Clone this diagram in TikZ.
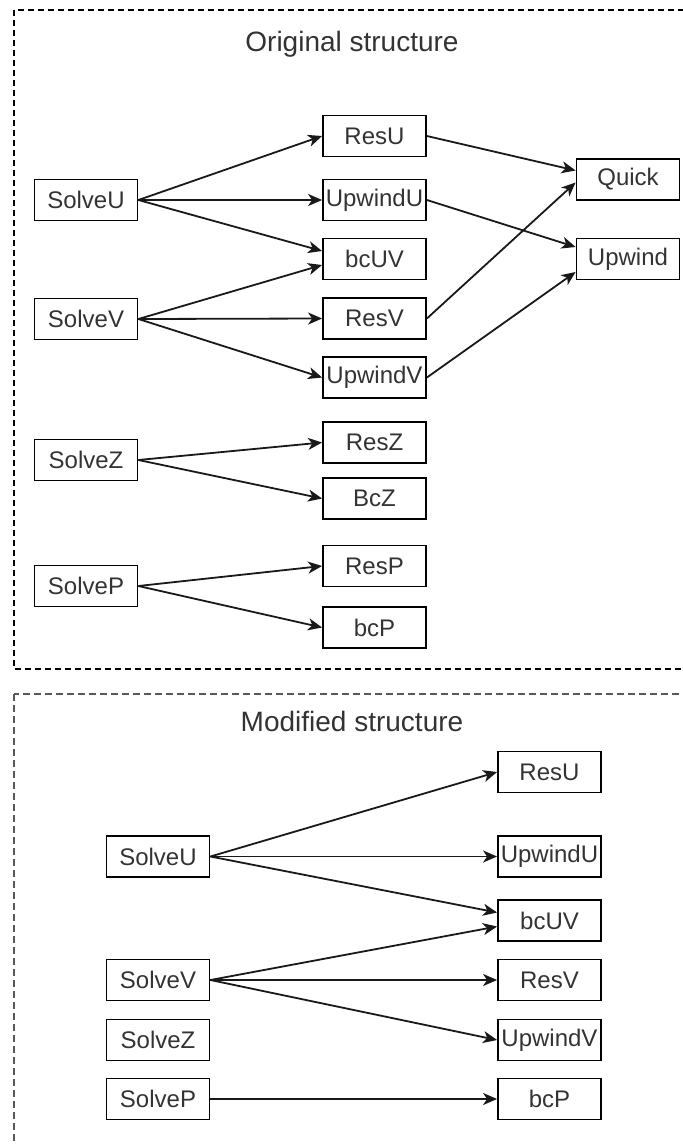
\documentclass[tikz,border=0pt]{standalone}
\usepackage{fontspec}
\setmainfont{Liberation Sans}
\usetikzlibrary{arrows.meta}
\definecolor{txt}{HTML}{333333}
\tikzset{
  blk/.style={draw=black, line width=1.8pt, minimum width=103pt, minimum height=41pt,
    inner sep=0pt, text=txt, font=\fontsize{24}{28}\selectfont},
  ttl/.style={text=txt, font=\fontsize{28}{32}\selectfont, inner sep=0pt},
  link/.style={line width=1.8pt, draw=black!90,
    -{Stealth[length=14pt,width=12pt,inset=4pt]}},
  frame/.style={line width=1.3pt, dash pattern=on 6pt off 4pt}
}
\begin{document}
\begin{tikzpicture}[x=1pt,y=-1pt]
\useasboundingbox (0,0) rectangle (683,1144);
\clip (0,0) rectangle (683,1144);

% dashed group frames
\draw[frame, black] (14,10) rectangle (700,669);
\draw[frame, black!65, line width=1.8pt, dash pattern=on 7pt off 4pt] (14,694) rectangle (700,1160);

% ---------- original structure ----------
\node[ttl] (t1) at (352,44) {Original structure};

\node[blk] (su) at (86,200) {SolveU};
\node[blk] (sv) at (86,319) {SolveV};
\node[blk] (sz) at (86,460) {SolveZ};
\node[blk] (sp) at (86,586) {SolveP};

\node[blk] (ru) at (374.5,136) {ResU};
\node[blk] (uu) at (374.5,200) {UpwindU};
\node[blk] (bu) at (374.5,259) {bcUV};
\node[blk] (rv) at (374.5,318.5) {ResV};
\node[blk] (uv) at (374.5,377.5) {UpwindV};
\node[blk] (rz) at (374.5,442.5) {ResZ};
\node[blk] (bz) at (374.5,498.5) {BcZ};
\node[blk] (rp) at (374.5,566) {ResP};
\node[blk] (bp) at (374.5,627.5) {bcP};

\node[blk] (qk) at (628,179.5) {Quick};
\node[blk] (up) at (628,259) {Upwind};

\draw[link] (su.east) -- (ru.west);
\draw[link] (su.east) -- (uu.west);
\draw[link] (su.east) -- ([yshift=8pt]bu.west);
\draw[link] (sv.east) -- ([yshift=-6pt]bu.west);
\draw[link] (sv.east) -- (rv.west);
\draw[link] (sv.east) -- (uv.west);
\draw[link] (sz.east) -- (rz.west);
\draw[link] (sz.east) -- (bz.west);
\draw[link] (sp.east) -- (rp.west);
\draw[link] (sp.east) -- (bp.west);

\draw[link] (ru.east) -- ([yshift=9pt]qk.west);
\draw[link] (rv.east) -- ([yshift=-3pt]qk.west);
\draw[link] (uu.east) -- ([yshift=12pt]up.west);
\draw[link] (uv.east) -- ([yshift=-13pt]up.west);

% ---------- modified structure ----------
\node[ttl] (t2) at (352,721) {Modified structure};

\node[blk] (su2) at (158,856.5) {SolveU};
\node[blk] (sv2) at (158,980) {SolveV};
\node[blk] (sz2) at (158,1040) {SolveZ};
\node[blk] (sp2) at (158,1099) {SolveP};

\node[blk] (ru2) at (549.5,772) {ResU};
\node[blk] (uu2) at (549.5,856.5) {UpwindU};
\node[blk] (bu2) at (549.5,920.5) {bcUV};
\node[blk] (rv2) at (549.5,980) {ResV};
\node[blk] (uv2) at (549.5,1040) {UpwindV};
\node[blk] (bp2) at (549.5,1099) {bcP};

\draw[link] (su2.east) -- (ru2.west);
\draw[link] (su2.east) -- (uu2.west);
\draw[link] (su2.east) -- ([yshift=8pt]bu2.west);
\draw[link] (sv2.east) -- ([yshift=-6pt]bu2.west);
\draw[link] (sv2.east) -- (rv2.west);
\draw[link] (sv2.east) -- (uv2.west);
\draw[link] (sp2.east) -- (bp2.west);
\end{tikzpicture}
\end{document}
